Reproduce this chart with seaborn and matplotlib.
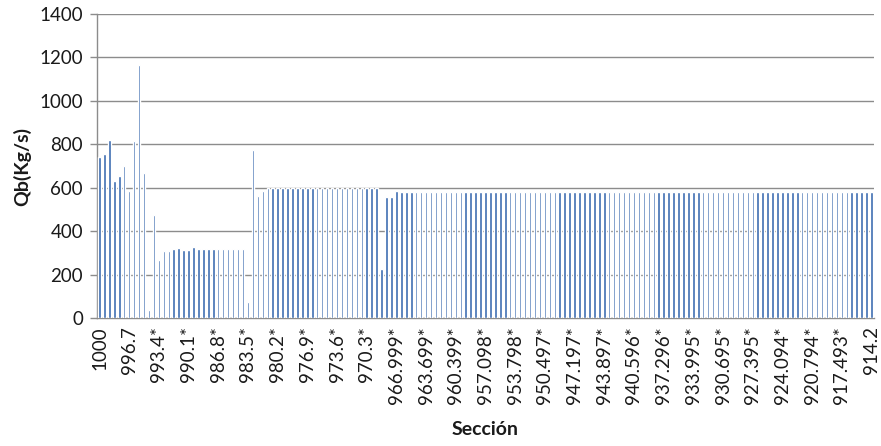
import matplotlib
matplotlib.use("Agg")
import matplotlib.pyplot as plt
import matplotlib.transforms as mtransforms
import seaborn as sns
import pandas as pd

# Bedload discharge Qb (kg/s) at each cross-section, upstream to downstream
qb_head = [743, 756, 820, 633, 656, 702, 584, 817, 1163, 668,
           37, 475, 267, 308, 308, 318, 322, 314, 311, 326,
           318, 318, 318, 318, 318, 318, 318, 318, 318, 318,
           72, 772, 562, 585]
qb_mid = [600, 600, 600, 600, 600, 600, 600, 600, 600, 600,
          600, 600, 600, 600, 600, 600, 600, 600, 600, 600,
          600, 600, 600, 224, 559, 559, 583]
qb_tail = [578, 578, 578, 578, 578, 578, 578, 578, 578, 578,
           578, 578, 578, 578, 578, 578, 578, 578, 578, 578,
           578, 578, 578, 578, 578, 578, 578, 578, 578, 578,
           578, 578, 578, 578, 578, 578, 578, 578, 578, 578,
           578, 578, 578, 578, 578, 578, 578, 578, 578, 578,
           578, 578, 578, 578, 578, 578, 578, 578, 578, 578,
           578, 578, 578, 578, 578, 578, 578, 578, 578, 578,
           578, 578, 578, 578, 578, 578, 578, 578, 578, 578,
           578, 578, 578, 578, 578, 578, 578, 578, 578, 578,
           578, 578, 578, 578, 578, 578]
qb = qb_head + qb_mid + qb_tail

# River stations shown on the axis (every sixth section)
section_labels = ["1000", "996.7", "993.4*", "990.1*", "986.8*", "983.5*",
                  "980.2*", "976.9*", "973.6*", "970.3*", "966.999*",
                  "963.699*", "960.399*", "957.098*", "953.798*", "950.497*",
                  "947.197*", "943.897*", "940.596*", "937.296*", "933.995*",
                  "930.695*", "927.395*", "924.094*", "920.794*", "917.493*",
                  "914.2"]
label_step = 6

df = pd.DataFrame({"pos": list(range(len(qb))), "Qb": qb})

sns.set_theme(style="white")
plt.rcParams["font.family"] = ["Lato", "DejaVu Sans"]

fig = plt.figure(figsize=(8.81, 4.46), dpi=100)
ax = fig.add_axes([97 / 881, 1 - 318 / 446, 777 / 881, 304 / 446])

sns.barplot(data=df, x="pos", y="Qb", color="#3A6AB0", width=0.5,
            saturation=1, ax=ax, zorder=3)

ax.set_ylim(0, 1400)
ax.set_yticks(range(0, 1401, 200))
ax.set_xlim(-0.5, len(qb) - 0.5)
ax.set_xticks(range(0, len(qb), label_step))
ax.set_xticklabels(section_labels, rotation=90, fontsize=13.5,
                   color="#1a1a1a")
# nudge the rotated station labels slightly to the right (not the last one)
shift = mtransforms.ScaledTranslation(2 / 100, 0, fig.dpi_scale_trans)
back = mtransforms.ScaledTranslation(-3 / 100, 0, fig.dpi_scale_trans)
tick_texts = ax.get_xticklabels()
for lbl in tick_texts[:-1]:
    lbl.set_transform(lbl.get_transform() + shift)
tick_texts[-1].set_transform(tick_texts[-1].get_transform() + back)

ax.tick_params(axis="y", labelsize=13.5, colors="#1a1a1a", length=5,
               width=1, color="#8c8c8c", pad=5, left=True)
ax.tick_params(axis="x", length=0, pad=6)

ax.grid(axis="y", color="#8c8c8c", linewidth=1, zorder=0)
ax.set_axisbelow(True)
for side in ("top", "right"):
    ax.spines[side].set_visible(False)
for side in ("left", "bottom"):
    ax.spines[side].set_color("#8c8c8c")
    ax.spines[side].set_linewidth(1)

ax.set_ylabel("Qb(Kg/s)", fontsize=14, fontweight="bold", color="#1a1a1a",
              labelpad=6)
ax.set_xlabel("Sección", fontsize=14, fontweight="bold", color="#1a1a1a",
              labelpad=12)

fig.savefig("out.png", dpi=100)
